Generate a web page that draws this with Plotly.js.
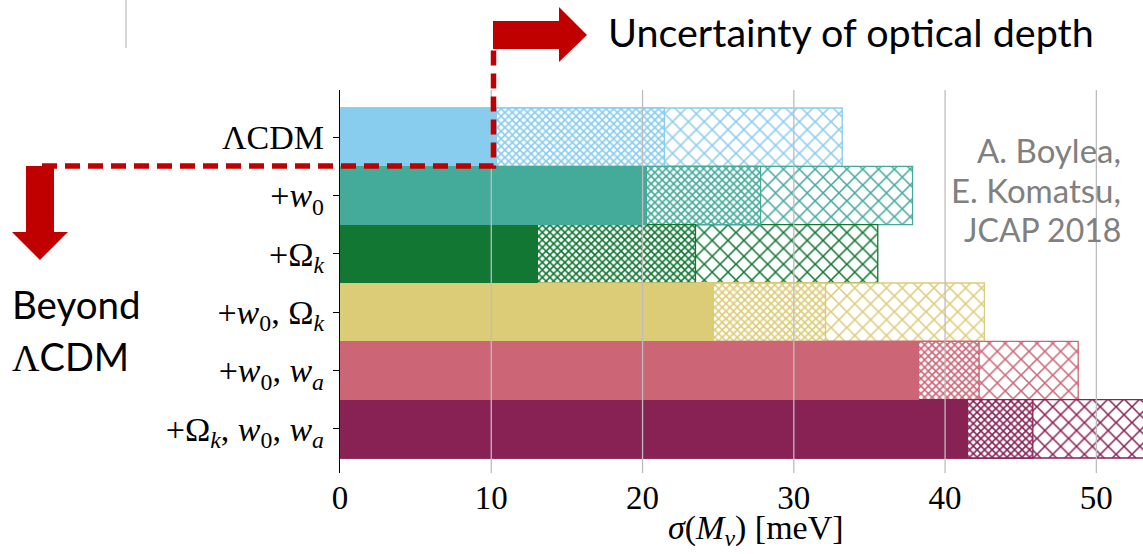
<!DOCTYPE html>
<html>
<head>
<meta charset="utf-8">
<script src="https://cdn.plot.ly/plotly-3.0.1.min.js"></script>
<style>
  html, body { margin: 0; padding: 0; overflow: hidden; background: #ffffff; }
  #chart { width: 1172px; height: 554px; }
</style>
</head>
<body>
<div id="chart"></div>
<script>
// Cosmological model extensions (top to bottom)
const models = [
  'ΛCDM',
  '+<i>w</i><sub>0</sub>',
  '+Ω<sub><i>k</i></sub>',
  '+<i>w</i><sub>0</sub>, Ω<sub><i>k</i></sub>',
  '+<i>w</i><sub>0</sub>, <i>w</i><sub><i>a</i></sub>',
  '+Ω<sub><i>k</i></sub>, <i>w</i><sub>0</sub>, <i>w</i><sub><i>a</i></sub>'
];

// σ(M_ν) in meV for three levels of optical-depth knowledge
const sigmaInner  = [10.4, 20.3, 13.1, 24.7, 38.3, 41.5];   // solid
const sigmaMiddle = [21.45, 27.8, 23.5, 32.1, 42.25, 45.8]; // dense hatch
const sigmaOuter  = [33.2, 37.85, 35.55, 42.6, 48.8, 56.0]; // open hatch

const modelColors = ['#88CCEE', '#44AA99', '#117733', '#DDCC77', '#CC6677', '#882255'];

const xTicks = [0, 10, 20, 30, 40, 50];
const xMax = 55;
const xTitle = '<i>σ</i>(<i>M</i><sub><i>ν</i></sub>) [meV]';

// plot frame in pixels
const W = 1172, H = 554;
const L = 340, R = 0, T = 90, B = 81;
const plotW = W - L - R, plotH = H - T - B;
const px = v => (v - L) / plotW;          // page x -> paper x
const py = v => (H - B - v) / plotH;      // page y -> paper y

function pathFrom(points) {
  return points.map((p, i) => (i ? 'L' : 'M') + px(p[0]).toFixed(5) + ',' + py(p[1]).toFixed(5)).join(' ') + ' Z';
}

const serif = '"Liberation Serif", "DejaVu Serif", serif';
const sans = 'Lato, "Open Sans", sans-serif';

const hatch = (size, solidity) => ({
  shape: 'x', fillmode: 'replace', bgcolor: '#ffffff',
  fgcolor: modelColors, size: size, solidity: solidity
});

const traces = [
  {
    type: 'bar', orientation: 'h', y: models, x: sigmaOuter,
    marker: { color: '#ffffff', line: { color: modelColors, width: 1.3 }, pattern: hatch(11.2, 0.26) },
    hoverinfo: 'skip', showlegend: false
  },
  {
    type: 'bar', orientation: 'h', y: models, x: sigmaMiddle,
    marker: { color: '#ffffff', line: { color: modelColors, width: 1.3 }, pattern: hatch(5.3, 0.5) },
    hoverinfo: 'skip', showlegend: false
  },
  {
    type: 'bar', orientation: 'h', y: models, x: sigmaInner,
    marker: { color: modelColors, line: { width: 0 } },
    hoverinfo: 'skip', showlegend: false
  }
];

const red = '#C00000';

const shapes = [];
// vertical grid lines drawn over the bars
xTicks.filter(v => v > 0).forEach(v => shapes.push({
  type: 'line', xref: 'x', yref: 'paper', x0: v, x1: v, y0: 0, y1: 1,
  line: { color: '#bdbdbd', width: 1.3 }, layer: 'above'
}));
// dashed guide from the ΛCDM bar to the two arrows
shapes.push({
  type: 'path', xref: 'paper', yref: 'paper', layer: 'above',
  path: 'M' + px(42) + ',' + py(166) + ' L' + px(493.5) + ',' + py(166) + ' L' + px(493.5) + ',' + py(50),
  line: { color: red, width: 5.5, dash: '15px,8px' }
});
// arrow pointing right
shapes.push({
  type: 'path', xref: 'paper', yref: 'paper', layer: 'above',
  path: pathFrom([[493, 21], [559, 21], [559, 7], [587, 35], [559, 62], [559, 49], [493, 49]]),
  fillcolor: red, line: { width: 0 }
});
// arrow pointing down
shapes.push({
  type: 'path', xref: 'paper', yref: 'paper', layer: 'above',
  path: pathFrom([[26, 166], [54, 166], [54, 232], [68, 232], [40, 260], [12, 232], [26, 232]]),
  fillcolor: red, line: { width: 0 }
});
// thin grey rule at the top left
shapes.push({
  type: 'line', xref: 'paper', yref: 'paper', x0: px(126), x1: px(126), y0: py(0), y1: py(48),
  line: { color: '#c8c8c8', width: 1.5 }
});

const annotations = [
  // x-axis label, centred under the axis
  { text: xTitle, x: 0.5, y: py(530), xanchor: 'center', yanchor: 'middle',
    font: { family: serif, size: 34, color: '#000000' } },
  { text: 'Uncertainty of optical depth', x: px(606), y: py(31), xanchor: 'left', yanchor: 'middle',
    font: { family: sans, size: 39.5, color: '#000000' } },
  { text: 'Beyond', x: px(10), y: py(304), xanchor: 'left', yanchor: 'middle',
    font: { family: sans, size: 38.5, color: '#000000' } },
  { text: '<span style="font-family:\'Liberation Serif\'">Λ</span>CDM', x: px(10), y: py(356), xanchor: 'left', yanchor: 'middle',
    font: { family: sans, size: 38, color: '#000000' } },
  { text: 'A. Boylea,', x: px(1123), y: py(150), xanchor: 'right', yanchor: 'middle',
    font: { family: sans, size: 33, color: '#808080' } },
  { text: 'E. Komatsu,', x: px(1123), y: py(190), xanchor: 'right', yanchor: 'middle',
    font: { family: sans, size: 33, color: '#808080' } },
  { text: 'JCAP 2018', x: px(1123), y: py(229), xanchor: 'right', yanchor: 'middle',
    font: { family: sans, size: 32, color: '#808080' } }
].map(a => Object.assign({ xref: 'paper', yref: 'paper', showarrow: false }, a));

const layout = {
  width: W, height: H,
  margin: { l: L, r: R, t: T, b: B, pad: 0 },
  paper_bgcolor: '#ffffff', plot_bgcolor: '#ffffff',
  barmode: 'overlay', bargap: 0,
  font: { family: serif, color: '#000000' },
  xaxis: {
    range: [0, xMax], tickvals: xTicks, ticktext: xTicks.map(String),
    showgrid: false, zeroline: false, showline: false, ticks: '',
    tickfont: { family: serif, size: 33, color: '#000000' },
    ticklabelstandoff: 2
  },
  yaxis: {
    type: 'category', range: [5.757, -0.809],
    showgrid: false, zeroline: false,
    showline: true, linecolor: '#000000', linewidth: 1.2,
    ticks: 'outside', ticklen: 6, tickcolor: '#000000', tickwidth: 1.2,
    tickfont: { family: serif, size: 34, color: '#000000' },
    ticklabelstandoff: 2
  },
  shapes: shapes,
  annotations: annotations
};

Plotly.newPlot('chart', traces, layout, { displayModeBar: false, staticPlot: true });
</script>
</body>
</html>
